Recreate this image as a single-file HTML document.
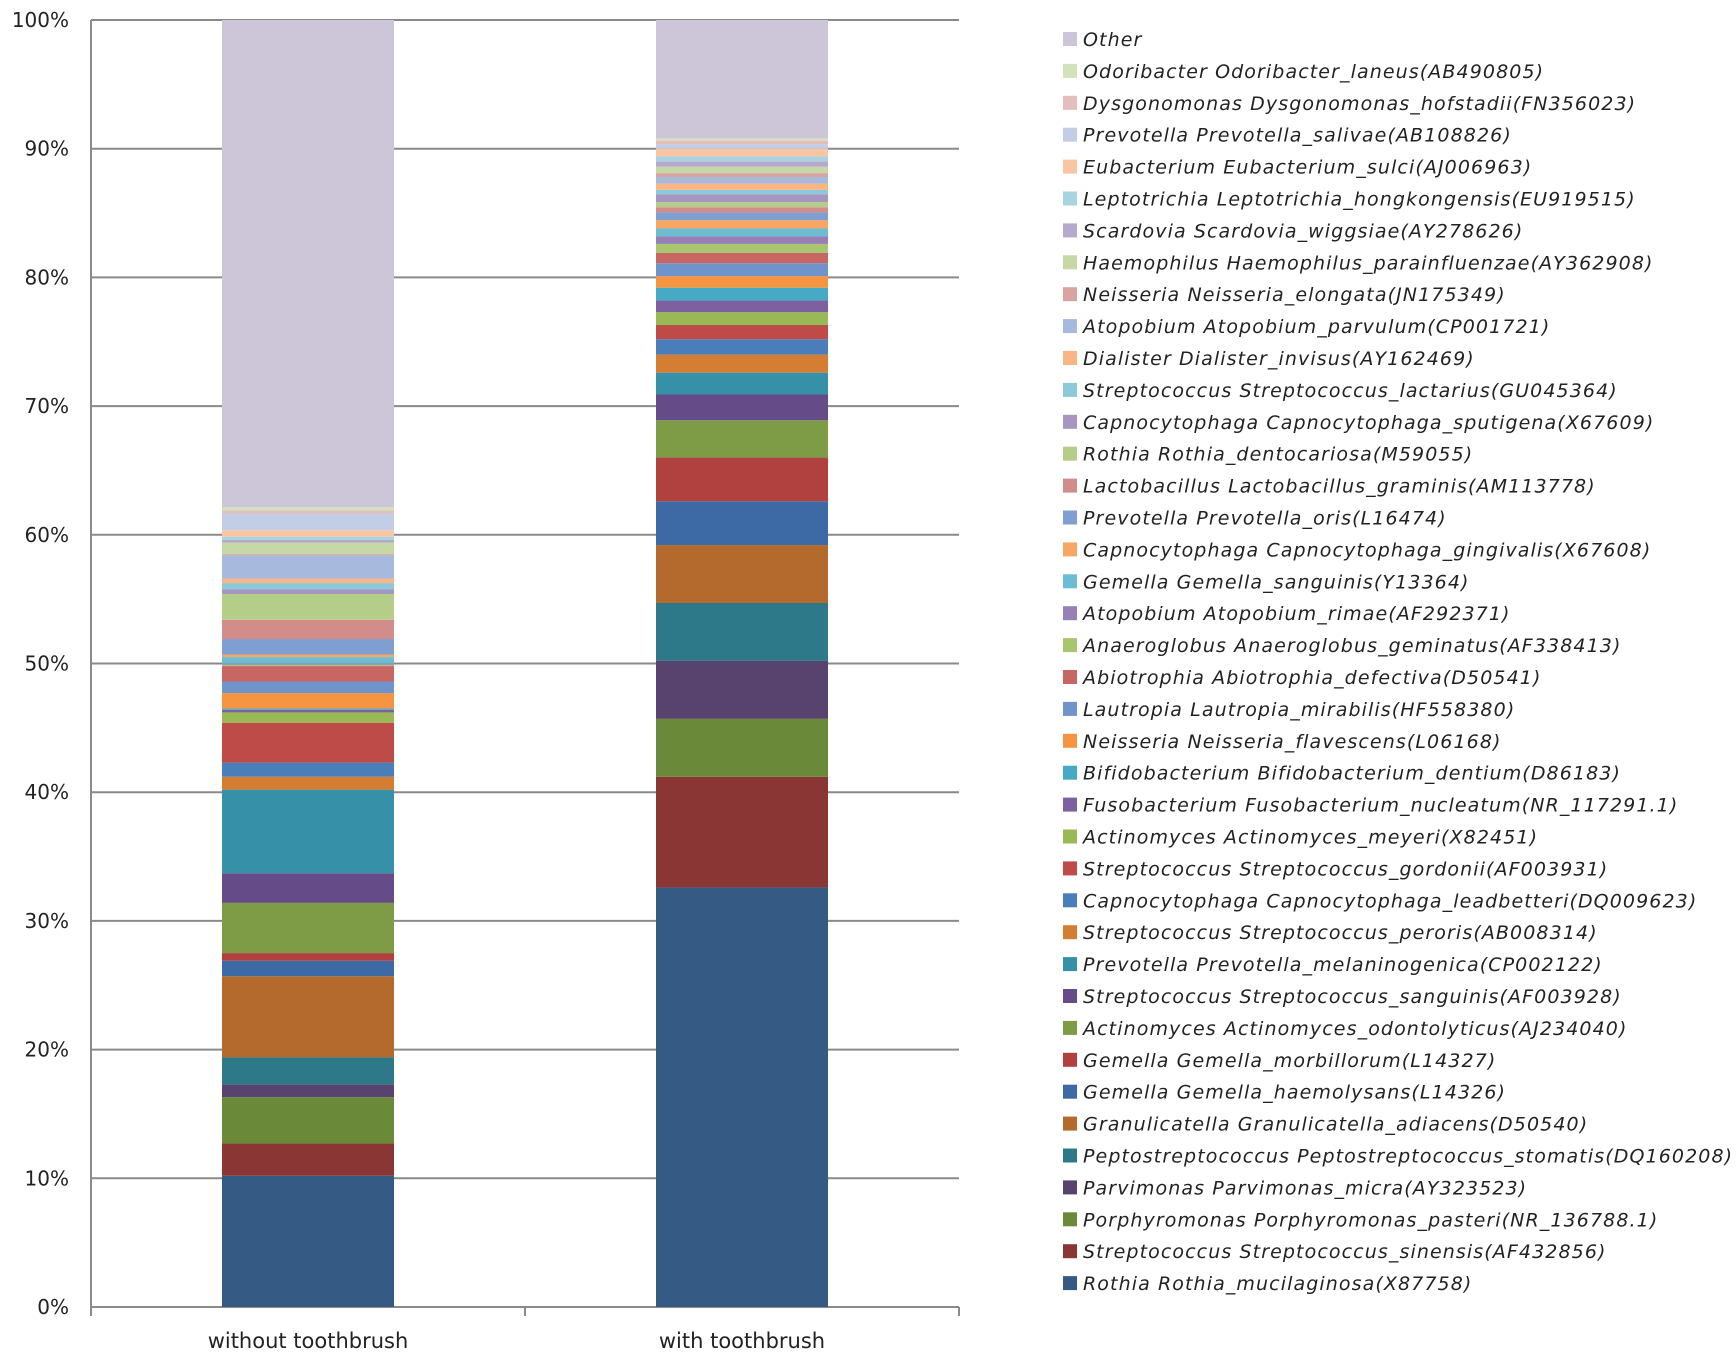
<!DOCTYPE html>
<html><head><meta charset="utf-8"><style>
html,body{margin:0;padding:0;background:#fff;}
svg text{font-family:"DejaVu Sans","Liberation Sans",sans-serif;fill:#222;}
</style></head><body>
<svg id="chart" width="1736" height="1361" viewBox="0 0 1736 1361" xmlns="http://www.w3.org/2000/svg">
<g id="grid"></g>
<g id="bars"></g>
<g id="axes"></g>
<g id="legend"></g>
</svg>
<script>
const categories = ["without toothbrush", "with toothbrush"];
const seriesNames = [
"Rothia Rothia_mucilaginosa(X87758)",
"Streptococcus Streptococcus_sinensis(AF432856)",
"Porphyromonas Porphyromonas_pasteri(NR_136788.1)",
"Parvimonas Parvimonas_micra(AY323523)",
"Peptostreptococcus  Peptostreptococcus_stomatis(DQ160208)",
"Granulicatella Granulicatella_adiacens(D50540)",
"Gemella Gemella_haemolysans(L14326)",
"Gemella Gemella_morbillorum(L14327)",
"Actinomyces Actinomyces_odontolyticus(AJ234040)",
"Streptococcus Streptococcus_sanguinis(AF003928)",
"Prevotella Prevotella_melaninogenica(CP002122)",
"Streptococcus Streptococcus_peroris(AB008314)",
"Capnocytophaga Capnocytophaga_leadbetteri(DQ009623)",
"Streptococcus Streptococcus_gordonii(AF003931)",
"Actinomyces Actinomyces_meyeri(X82451)",
"Fusobacterium Fusobacterium_nucleatum(NR_117291.1)",
"Bifidobacterium Bifidobacterium_dentium(D86183)",
"Neisseria Neisseria_flavescens(L06168)",
"Lautropia Lautropia_mirabilis(HF558380)",
"Abiotrophia Abiotrophia_defectiva(D50541)",
"Anaeroglobus Anaeroglobus_geminatus(AF338413)",
"Atopobium Atopobium_rimae(AF292371)",
"Gemella Gemella_sanguinis(Y13364)",
"Capnocytophaga Capnocytophaga_gingivalis(X67608)",
"Prevotella Prevotella_oris(L16474)",
"Lactobacillus Lactobacillus_graminis(AM113778)",
"Rothia Rothia_dentocariosa(M59055)",
"Capnocytophaga Capnocytophaga_sputigena(X67609)",
"Streptococcus Streptococcus_lactarius(GU045364)",
"Dialister Dialister_invisus(AY162469)",
"Atopobium Atopobium_parvulum(CP001721)",
"Neisseria Neisseria_elongata(JN175349)",
"Haemophilus Haemophilus_parainfluenzae(AY362908)",
"Scardovia Scardovia_wiggsiae(AY278626)",
"Leptotrichia Leptotrichia_hongkongensis(EU919515)",
"Eubacterium Eubacterium_sulci(AJ006963)",
"Prevotella Prevotella_salivae(AB108826)",
"Dysgonomonas Dysgonomonas_hofstadii(FN356023)",
"Odoribacter Odoribacter_laneus(AB490805)",
"Other"];
const withoutValues = [10.2,2.5,3.6,1.0,2.1,6.3,1.2,0.6,3.9,2.3,6.5,1.0,1.1,3.1,0.8,0.2,0.1,1.2,0.9,1.2,0.1,0.1,0.5,0.2,1.2,1.5,2.0,0.35,0.5,0.35,1.8,0.1,0.9,0.2,0.25,0.5,1.3,0.25,0.25,37.85];
const withValues = [32.6,8.6,4.5,4.5,4.5,4.5,3.4,3.4,2.9,2.0,1.7,1.4,1.2,1.1,1.0,0.9,1.0,0.9,1.0,0.8,0.7,0.6,0.6,0.65,0.6,0.4,0.4,0.6,0.35,0.5,0.5,0.3,0.5,0.4,0.4,0.6,0.35,0.25,0.2,9.2];
const tickValues = [0,10,20,30,40,50,60,70,80,90,100];
const tickLabels = ["0%","10%","20%","30%","40%","50%","60%","70%","80%","90%","100%"];
const colors = ["#355B85","#8A3634","#6A8A3A","#57436E","#2D7889","#B4692D",
"#3D6AA5","#B0413E","#7E9B45","#654B88","#3690A8","#D57E33",
"#4A7EBB","#BE4B48","#98B954","#7D60A0","#46AAC5","#F59542",
"#6F94CC","#C86664","#A8C66E","#9680B6","#6CBCD3","#F8A666",
"#7F9ED2","#D28C8A","#B4CD89","#A696C0","#8DC9DB","#F9B585",
"#A7B9DC","#D9A3A2","#C5D8A6","#B6A9CC","#A8D4E2","#FAC5A2",
"#C2CDE6","#E4BDBC","#D2E2BD","#CDC6D9"];

const NS="http://www.w3.org/2000/svg";
const L=91,R=959,T=20,B=1307;
const y=v=>B-(v/100)*(B-T);
const bandW=(R-L)/categories.length;
const x=i=>L+bandW*(i+0.5);
const barW=172;
function mk(tag,attrs,parent){const e=document.createElementNS(NS,tag);for(const k in attrs)e.setAttribute(k,attrs[k]);parent.appendChild(e);return e;}
const grid=document.getElementById('grid'),bars=document.getElementById('bars'),axes=document.getElementById('axes'),legend=document.getElementById('legend');

tickValues.forEach((v,i)=>{
  const ln=mk('line',{x1:L,x2:R,y1:y(v),y2:y(v),stroke:'#8a8a8a','stroke-width':2},grid);
  
  
  const t=mk('text',{x:69,y:y(v)+7,'text-anchor':'end','font-size':20},axes);
  t.textContent=tickLabels[i];
  
  
});
const ax=mk('line',{x1:L,x2:L,y1:T,y2:B,stroke:'#8a8a8a','stroke-width':2},axes);


for(let i=0;i<=categories.length;i++){
  const tk=mk('line',{x1:L+bandW*i,x2:L+bandW*i,y1:B,y2:B+9,stroke:'#8a8a8a','stroke-width':2},axes);
  
  
}
[withoutValues,withValues].forEach((vals,ci)=>{
  let cum=0;
  vals.forEach((v,si)=>{
    const r=mk('rect',{x:x(ci)-barW/2,y:y(cum+v),width:barW,height:Math.max(0,y(cum)-y(cum+v)),fill:colors[si]},bars);
    
    
    cum+=v;
  });
  const t=mk('text',{x:x(ci),y:1348,'text-anchor':'middle','font-size':21},axes);
  t.textContent=categories[ci];
  
  
});
const n=seriesNames.length;
for(let k=0;k<n;k++){
  const si=n-1-k;
  const cy=39+k*31.9;
  const g=mk('g',{},legend);
  
  
  mk('rect',{x:1063,y:cy-7,width:14,height:14,fill:colors[si]},g);
  const t=mk('text',{x:1083,y:cy+7,'font-size':19,'font-style':'italic','letter-spacing':'1.1'},g);
  t.textContent=seriesNames[si];
}
</script>
</body></html>
